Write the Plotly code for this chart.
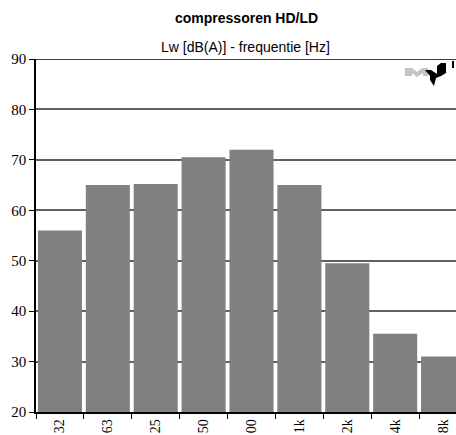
import plotly.graph_objects as go

# Octave bands (labels as printed under the bars) and sound power levels
bands = ["32", "63", "25", "50", "00", "1k", "2k", "4k", "8k"]
lw_dba = [56, 65, 65.2, 70.5, 72, 65, 49.5, 35.5, 31]
y_ticks = [20, 30, 40, 50, 60, 70, 80, 90]

W, H = 456, 435
ML, MR, MT, MB = 36, 0, 59, 23
PW, PH = W - ML - MR, H - MT - MB

SERIF = "Liberation Serif"
SANS = "Liberation Sans"


def px(x, y):
    """pixel position -> paper coordinates"""
    return (x - ML) / PW, (H - MB - y) / PH


def poly(points):
    parts = []
    for i, (x, y) in enumerate(points):
        u, v = px(x, y)
        parts.append(("M" if i == 0 else "L") + f"{u:.4f},{v:.4f}")
    return " ".join(parts) + " Z"


fig = go.Figure(
    go.Bar(
        x=bands,
        y=lw_dba,
        marker=dict(color="#808080", line=dict(width=0)),
        hoverinfo="x+y",
    )
)

shapes = [
    # top frame line at 90
    dict(type="line", xref="paper", yref="y", x0=0, x1=1, y0=90, y1=90,
         line=dict(color="black", width=1.5), layer="above"),
    # logo: grey M
    dict(type="path", xref="paper", yref="paper", layer="above",
         path=poly([(405, 68), (412, 68), (417, 72), (422, 68), (428, 68),
                    (428, 76), (423, 76), (423, 73), (417, 77), (412, 73),
                    (412, 76), (405, 76)]),
         fillcolor="#c4c4c4", line=dict(width=0)),
    # logo: black N with arrow point
    dict(type="path", xref="paper", yref="paper", layer="above",
         path=poly([(425, 70), (431, 70), (437, 74), (437, 66), (441, 63),
                    (446, 63), (446, 73), (441, 76), (436, 78), (434, 86),
                    (430, 80), (430, 76)]),
         fillcolor="black", line=dict(width=0)),
    dict(type="rect", xref="paper", yref="paper", layer="above",
         x0=px(452, 61)[0], x1=px(454, 61)[0], y0=px(452, 68)[1], y1=px(452, 61)[1],
         fillcolor="black", line=dict(width=0)),
]

fig.update_layout(
    width=W,
    height=H,
    margin=dict(l=ML, r=MR, t=MT, b=MB, pad=0),
    paper_bgcolor="white",
    plot_bgcolor="white",
    showlegend=False,
    bargap=0.08,
    shapes=shapes,
    annotations=[
        dict(text="<b>compressoren HD/LD</b>", xref="paper", yref="paper",
             x=px(246, 0)[0], y=px(0, 18)[1], showarrow=False,
             font=dict(family=SANS, size=14, color="black"),
             xanchor="center", yanchor="middle"),
        dict(text="Lw [dB(A)] - frequentie [Hz]", xref="paper", yref="paper",
             x=px(245, 0)[0], y=px(0, 47)[1], showarrow=False,
             font=dict(family=SANS, size=14, color="black"),
             xanchor="center", yanchor="middle"),
    ],
    xaxis=dict(
        type="category",
        range=[-0.5, 8.27],
        showgrid=False,
        showline=True, linecolor="black", linewidth=1.5,
        ticks="outside", ticklen=5, tickcolor="black", tickwidth=1,
        tickson="boundaries",
        tickangle=-90,
        tickfont=dict(family=SERIF, size=14, color="black"),
        zeroline=False,
    ),
    yaxis=dict(
        range=[20, 90],
        tickvals=y_ticks,
        showgrid=True, gridcolor="#606060", gridwidth=1.5,
        showline=True, linecolor="black", linewidth=1.5,
        ticks="outside", ticklen=5, tickcolor="black",
        tickfont=dict(family=SERIF, size=15, color="black"),
        zeroline=False,
    ),
)

fig.write_html("out.html")
